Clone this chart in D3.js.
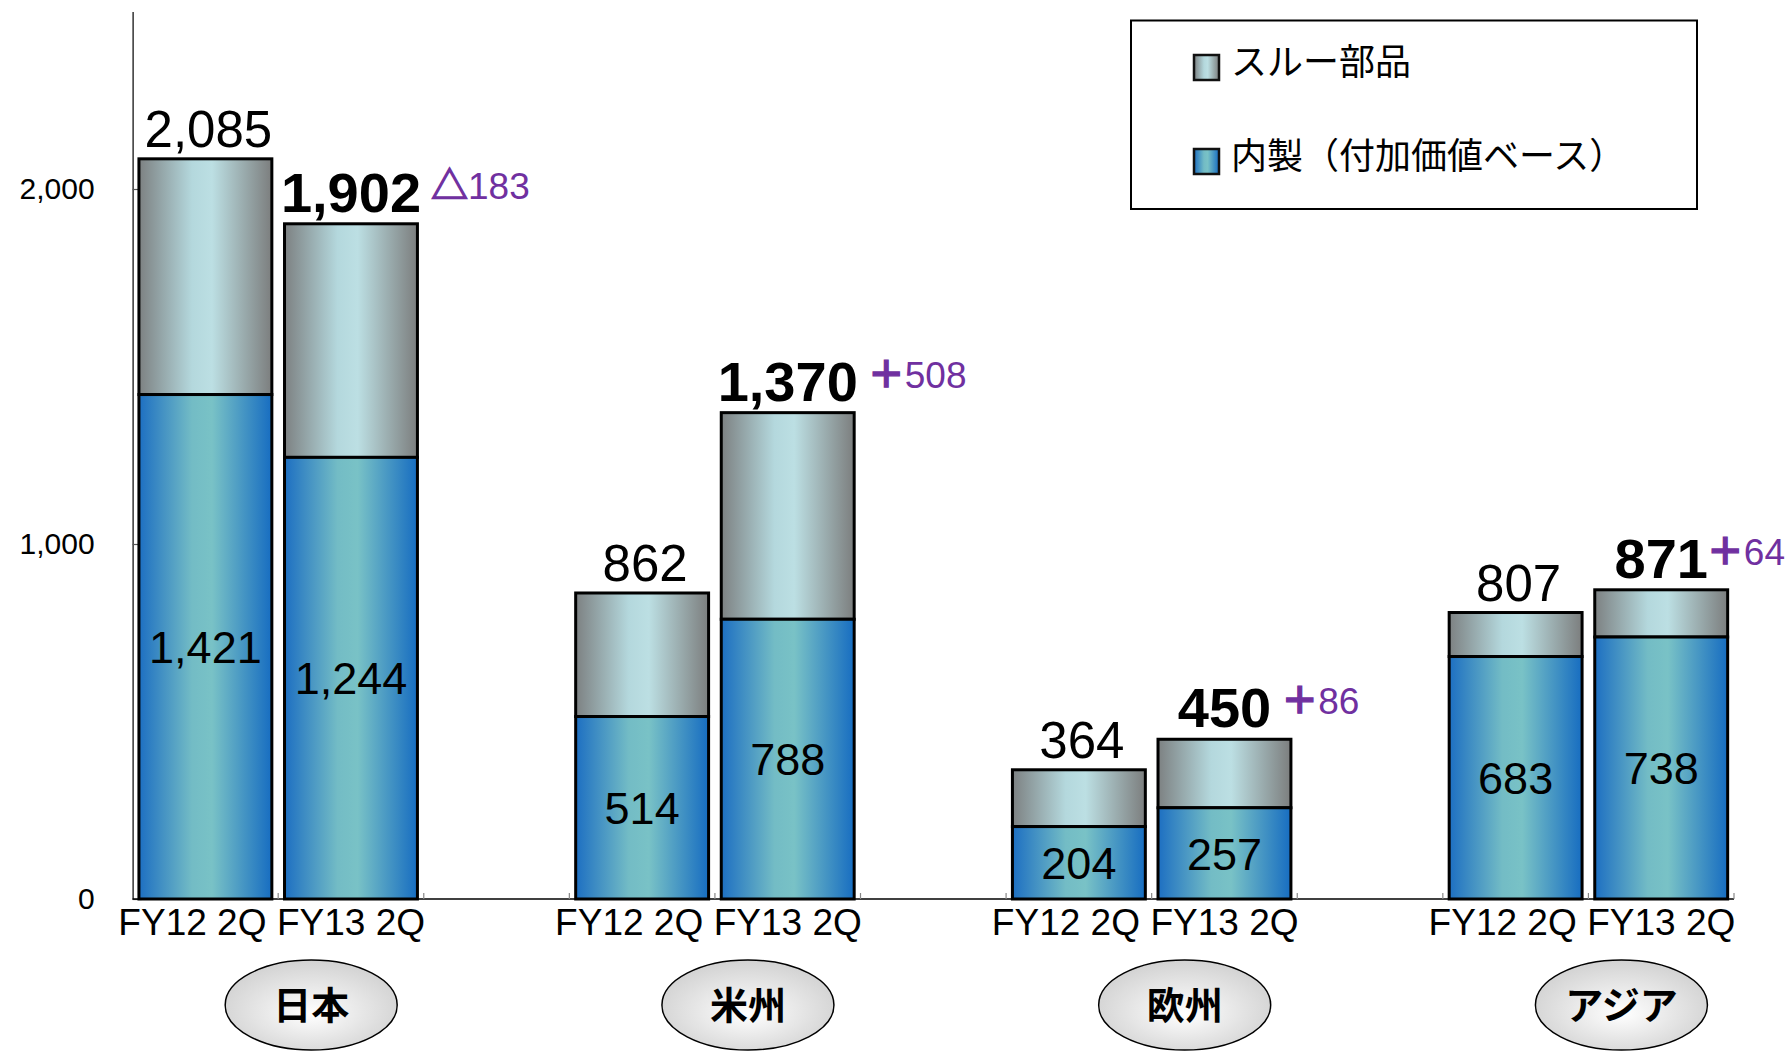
<!DOCTYPE html>
<html><head><meta charset="utf-8">
<script src="https://cdn.jsdelivr.net/npm/d3@7"></script>
<style>
html,body{margin:0;padding:0;background:#fff;}
svg{display:block;}
</style></head>
<body>
<svg id="chart" width="1789" height="1052"></svg>
<script>
// ---- data ----
const regions = ["日本", "米州", "欧州", "アジア"];
const periods = ["FY12 2Q", "FY13 2Q"];
const totalFY12 = [2085, 862, 364, 807];
const totalFY13 = [1902, 1370, 450, 871];
const inhouseFY12 = [1421, 514, 204, 683];
const inhouseFY13 = [1244, 788, 257, 738];
const deltaSymbols = ["△", "＋", "＋", "＋"];
const deltaValues = [183, 508, 86, 64];
const yTicks = [0, 1000, 2000];
const seriesNames = ["スルー部品", "内製（付加価値ベース）"];

const NUM_FONT = "'Liberation Sans', Arial, sans-serif";
const JP_FONT = "'Noto Sans CJK JP', sans-serif";
const W = 1789;

const svg = d3.select("#chart");
const defs = svg.append("defs");

function hGrad(id, stops) {
  const g = defs.append("linearGradient").attr("id", id)
    .attr("x1", "0%").attr("x2", "100%").attr("y1", "0%").attr("y2", "0%");
  stops.forEach(s => g.append("stop").attr("offset", s[0]).attr("stop-color", s[1]));
}
hGrad("gThrough", [["0%", "#7d8182"], ["40%", "#b4d8dd"], ["55%", "#bcdfe3"], ["100%", "#7c7e7e"]]);
hGrad("gInner", [["0%", "#1d6fc2"], ["40%", "#73bcc5"], ["55%", "#79c2c6"], ["100%", "#176dc1"]]);
const rg = defs.append("radialGradient").attr("id", "gEll")
  .attr("cx", "50%").attr("cy", "55%").attr("r", "55%").attr("fx", "50%").attr("fy", "60%");
rg.append("stop").attr("offset", "0%").attr("stop-color", "#ffffff");
rg.append("stop").attr("offset", "100%").attr("stop-color", "#d2d2d2");

// ---- slots ----
const slots = [];
const bars = [];
regions.forEach((r, i) => {
  periods.forEach((p, j) => {
    const key = r + "|" + p;
    slots.push(key);
    const total = j === 0 ? totalFY12[i] : totalFY13[i];
    const inner = j === 0 ? inhouseFY12[i] : inhouseFY13[i];
    bars.push({key, region: r, ri: i, period: p, pj: j, total, inner});
  });
  if (i < regions.length - 1) slots.push("gap" + i);
});

const x = d3.scaleBand().domain(slots).range([132.6, 1734]).paddingInner(0.087).paddingOuter(0.0435);
const y = d3.scaleLinear().domain([0, 2500]).range([899, 11.5]);
const bw = x.bandwidth();

// ---- y axis ----
const yAxis = svg.append("g").attr("transform", "translate(132.6,0)")
  .call(d3.axisLeft(y).tickValues(yTicks).tickFormat(d3.format(",")).tickSizeInner(-9).tickSizeOuter(0).tickPadding(38));
yAxis.select(".domain").attr("stroke", "#000").attr("stroke-width", 1.2);
yAxis.selectAll(".tick line").attr("stroke", "#555").attr("stroke-width", 1.2);
yAxis.selectAll(".tick text").attr("font-family", NUM_FONT).attr("font-size", 30).attr("fill", "#000");

// ---- x axis baseline and boundary ticks ----
const step = x.step();
const x0 = x.range()[0];
svg.append("line").attr("x1", x0).attr("x2", x.range()[1]).attr("y1", y(0)).attr("y2", y(0))
  .attr("stroke", "#000").attr("stroke-width", 1.5);
svg.append("g").selectAll("line").data(d3.range(1, slots.length + 1)).join("line")
  .attr("x1", k => x0 + k * step).attr("x2", k => x0 + k * step)
  .attr("y1", y(0)).attr("y2", y(0) - 6).attr("stroke", "#888").attr("stroke-width", 1.2);

// x labels
const xAxis = svg.append("g").attr("transform", `translate(0,${y(0)})`)
  .call(d3.axisBottom(x).tickValues(bars.map(b => b.key)).tickFormat(k => k.split("|")[1]).tickSize(0).tickPadding(10));
xAxis.select(".domain").remove();
xAxis.selectAll(".tick text").attr("font-family", NUM_FONT).attr("font-size", 37).attr("fill", "#000")
  .attr("dx", k => k.endsWith(periods[0]) ? -13 : 0);

// ---- bars ----
const g = svg.append("g");
const bg = g.selectAll("g.bar").data(bars).join("g").attr("class", "bar");
bg.append("rect")
  .attr("x", d => x(d.key)).attr("width", bw)
  .attr("y", d => y(d.total)).attr("height", d => y(d.inner) - y(d.total))
  .attr("fill", "url(#gThrough)").attr("stroke", "#000").attr("stroke-width", 3);
bg.append("rect")
  .attr("x", d => x(d.key)).attr("width", bw)
  .attr("y", d => y(d.inner)).attr("height", d => y(0) - y(d.inner))
  .attr("fill", "url(#gInner)").attr("stroke", "#000").attr("stroke-width", 3);

// inner labels
bg.append("text")
  .attr("x", d => x(d.key) + bw / 2).attr("y", d => (y(0) + y(d.inner)) / 2)
  .attr("dy", "0.36em").attr("text-anchor", "middle")
  .attr("font-family", NUM_FONT).attr("font-size", 45).attr("fill", "#000")
  .text(d => d3.format(",")(d.inner));

// total labels
const totLab = bg.append("text")
  .attr("class", "total")
  .attr("x", d => x(d.key) + bw / 2 + (d.pj === 0 ? 3 : 0)).attr("y", d => y(d.total) - 12)
  .attr("text-anchor", "middle")
  .attr("font-family", NUM_FONT)
  .attr("font-size", d => d.pj === 1 ? 56 : 51)
  .attr("font-weight", d => d.pj === 1 ? "bold" : "normal")
  .attr("fill", "#000")
  .text(d => d3.format(",")(d.total));

// delta labels
totLab.each(function(d) {
  if (d.pj !== 1) return;
  const w = this.getComputedTextLength();
  const t = g.append("text")
    .attr("y", y(d.total) - 25)
    .attr("fill", "#7030a0");
  t.append("tspan").attr("font-family", JP_FONT).attr("font-weight", "bold").attr("font-size", 37)
    .attr("stroke", "#7030a0").attr("stroke-width", 1.3).text(deltaSymbols[d.ri]);
  t.append("tspan").attr("font-family", NUM_FONT).attr("font-size", 37).text(deltaValues[d.ri]);
  const tw = t.node().getComputedTextLength();
  t.attr("x", Math.min(x(d.key) + bw / 2 + w / 2 + 10, W - tw - 4));
});

// ---- region ellipses ----
const eg = svg.append("g").selectAll("g").data(regions).join("g")
  .attr("transform", r => {
    const a = x(r + "|" + periods[0]);
    const b = x(r + "|" + periods[1]) + bw;
    return `translate(${(a + b) / 2 + 33},1005)`;
  });
eg.append("ellipse").attr("rx", 86).attr("ry", 45)
  .attr("fill", "url(#gEll)").attr("stroke", "#000").attr("stroke-width", 1.5);
eg.append("text").attr("text-anchor", "middle").attr("dy", "0.36em")
  .attr("font-family", JP_FONT).attr("font-weight", "bold").attr("font-size", 38).attr("fill", "#000")
  .text(r => r);

// ---- legend ----
const lg = svg.append("g");
lg.append("rect").attr("x", 1131).attr("y", 20.5).attr("width", 566).attr("height", 188.5)
  .attr("fill", "#fff").attr("stroke", "#000").attr("stroke-width", 2);
const li = lg.selectAll("g.li").data(seriesNames).join("g").attr("class", "li")
  .attr("transform", (d, i) => `translate(1194,${55 + i * 94})`);
li.append("rect").attr("width", 25).attr("height", 25)
  .attr("fill", (d, i) => i === 0 ? "url(#gThrough)" : "url(#gInner)")
  .attr("stroke", "#111").attr("stroke-width", 2.5);
li.append("text").attr("x", 37).attr("y", 20)
  .attr("font-family", JP_FONT).attr("font-size", 36).attr("fill", "#000")
  .text(d => d);
</script>
</body></html>
